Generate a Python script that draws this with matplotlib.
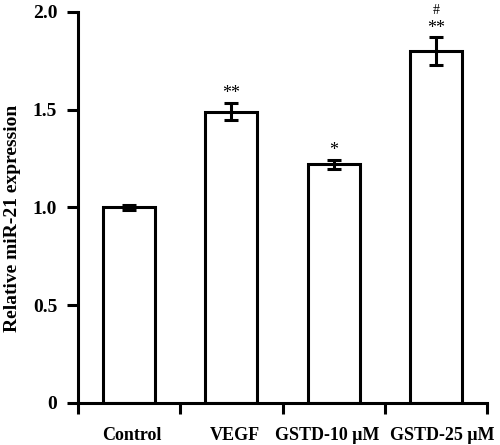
import matplotlib
matplotlib.use("Agg")
import matplotlib.pyplot as plt
import matplotlib.transforms as mtransforms
import numpy as np

categories = ["Control", "VEGF", "GSTD-10 \u03bcM", "GSTD-25 \u03bcM"]
values = [1.0, 1.49, 1.22, 1.80]
errors = [0.012, 0.045, 0.025, 0.07]
stars = ["", "**", "*", "**"]
hashes = ["", "", "", "#"]
yticks = [0, 0.5, 1.0, 1.5, 2.0]
ytick_labels = ["0", "0.5", "1.0", "1.5", "2.0"]

plt.rcParams['font.family'] = ['Liberation Serif', 'DejaVu Serif']

fig = plt.figure(figsize=(5.0, 4.45), dpi=100)
ax = fig.add_axes([0.156, 0.0944, 0.818, 0.8787])

x = np.arange(len(categories))
lw = 2.2
ax.bar(x, values, width=0.51, color='white', edgecolor='black', linewidth=lw, zorder=2)
ax.errorbar(x, values, yerr=errors, fmt='none', ecolor='black', elinewidth=lw,
            capsize=5, capthick=lw, zorder=3)

for xi, v, e, s, h in zip(x, values, errors, stars, hashes):
    if s:
        ax.text(xi, v + e + 0.004, s, ha='center', va='bottom', fontsize=13,
                color='black', clip_on=False)
    if h:
        ax.text(xi, v + e + 0.14, h, ha='center', va='center', fontsize=10,
                color='black', clip_on=False)

ax.set_xlim(-0.5, 3.5)
ax.set_ylim(0, 2.0)
ax.set_yticks(yticks)
ax.set_yticklabels(ytick_labels, fontsize=14, fontweight='bold')
ax.set_xticks(x)
ax.set_xticklabels(categories, fontsize=13, fontweight='bold')
ax.set_xticks(np.arange(-0.5, 4.0, 1.0), minor=True)
ax.tick_params(axis='x', which='major', length=0, pad=17)
ax.tick_params(axis='x', which='minor', length=8, width=lw, direction='out')
ax.tick_params(axis='y', length=8, width=lw, direction='out', pad=7)
ax.set_ylabel("Relative miR-21 expression", fontsize=14, fontweight='bold')
ax.yaxis.set_label_coords(-0.139, 0.473)

# small horizontal nudges of tick labels to match reference placement
label_shifts = [3, 3, -6, 6]
for lab, dx in zip(ax.get_xticklabels(), label_shifts):
    lab.set_transform(lab.get_transform() +
                      mtransforms.ScaledTranslation(dx / 100.0, 0, fig.dpi_scale_trans))

for s in ['top', 'right']:
    ax.spines[s].set_visible(False)
for s in ['left', 'bottom']:
    ax.spines[s].set_linewidth(lw)

fig.savefig("out.png", dpi=100)
